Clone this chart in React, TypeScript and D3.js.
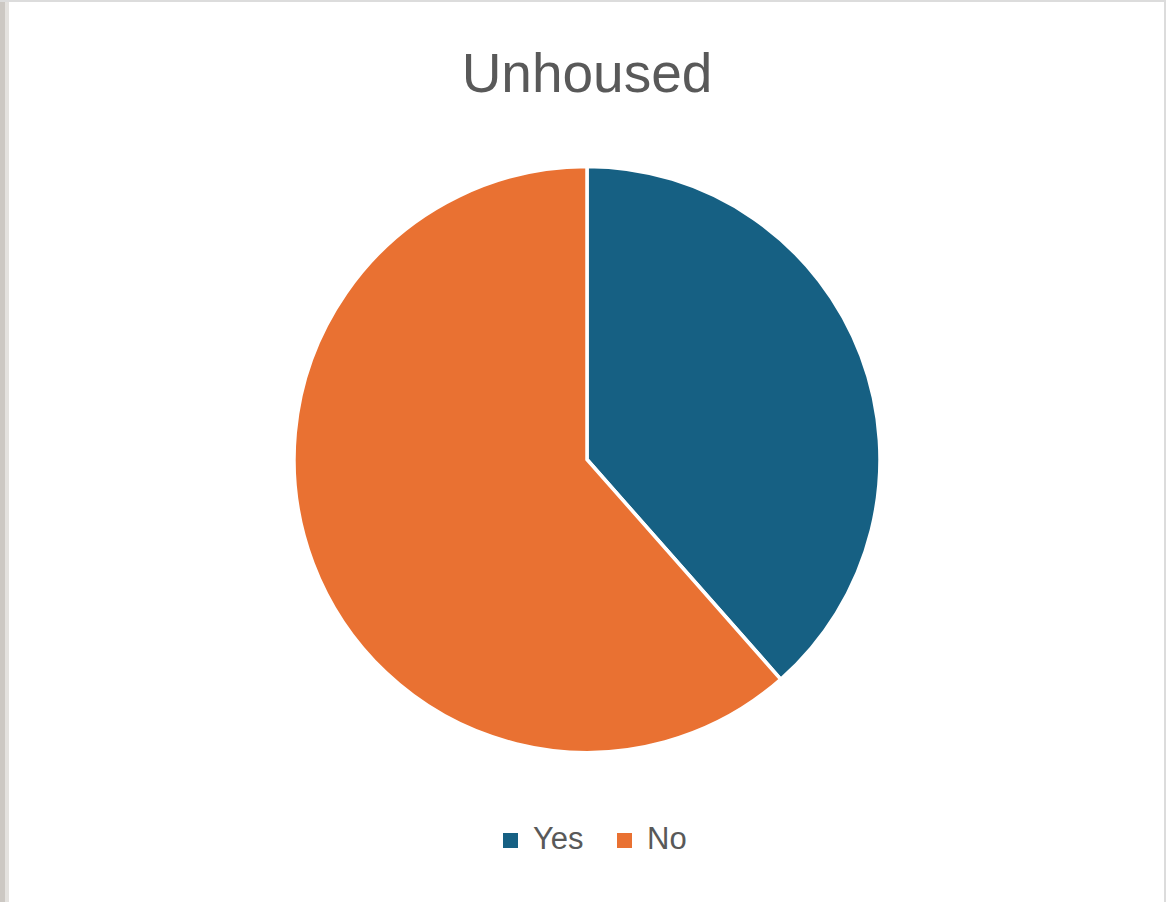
import React from "react";
import * as d3 from "d3";

const categories = ["Yes", "No"];
const values = [38.5, 61.5];
const colors = ["#166083", "#E97132"];
const title = "Unhoused";

export default function App() {
  const W = 1166, H = 902;
  const cx = 587, cy = 459.5, r = 293;
  const pie = d3.pie<number>().sort(null).value((d) => d);
  const arcs = pie(values);
  const arc = d3.arc<d3.PieArcDatum<number>>().innerRadius(0).outerRadius(r);
  const legendX = [503, 617];
  return (
    <svg width={W} height={H} style={{ position: "absolute", left: 0, top: 0 }}>
      <rect x={0} y={0} width={W} height={H} fill="#ffffff" />
      <rect x={0} y={0} width={5} height={H} fill="#ccc8c3" />
      <rect x={5} y={0} width={4} height={H} fill="#e4e2df" />
      <rect x={0} y={0} width={W} height={2} fill="#dcdcdc" />
      <rect x={W - 2} y={0} width={2} height={H} fill="#dcdcdc" />
      <text x={587} y={92} textAnchor="middle" fontFamily="Liberation Sans, Arial, sans-serif" fontSize={55} fill="#595959">{title}</text>
      <g transform={`translate(${cx},${cy})`}>
        {arcs.map((a, i) => (
          <path key={categories[i]} d={arc(a) || ""} fill={colors[i]} stroke="#ffffff" strokeWidth={3.5} strokeLinejoin="miter" />
        ))}
      </g>
      {categories.map((c, i) => (
        <g key={c}>
          <rect x={legendX[i]} y={833} width={15} height={15} fill={colors[i]} />
          <text x={legendX[i] + 30} y={849} fontFamily="Liberation Sans, Arial, sans-serif" fontSize={31} fill="#595959">{c}</text>
        </g>
      ))}
    </svg>
  );
}
